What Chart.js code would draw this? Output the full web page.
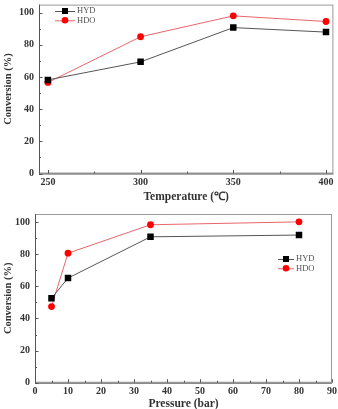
<!DOCTYPE html>
<html>
<head>
<meta charset="utf-8">
<script src="https://cdn.jsdelivr.net/npm/chart.js@4.4.1/dist/chart.umd.min.js"></script>
<style>
  html, body { margin: 0; padding: 0; background: #fff; }
  canvas { display: block; }
</style>
</head>
<body>
<canvas id="tempChart" width="338" height="205"></canvas>
<canvas id="pressChart" width="338" height="204"></canvas>
<script>
// Conversion vs temperature
const temperatures = [250, 300, 350, 400];
const hydByTemp = [58.2, 69.4, 90.7, 87.9];
const hdoByTemp = [56.6, 85.0, 98.0, 94.5];

// Conversion vs pressure
const pressures = [5, 10, 35, 80];
const hydByPressure = [52.6, 65.1, 90.8, 91.9];
const hdoByPressure = [47.4, 80.6, 98.3, 100.1];

const seriesNames = ['HYD', 'HDO'];
const tempTicks = [250, 300, 350, 400];
const tempMinorTicks = [275, 325, 375];
const pressureTicks = [0, 10, 20, 30, 40, 50, 60, 70, 80, 90];
const pressureMinorTicks = [5, 15, 25, 35, 45, 55, 65, 75, 85];
const conversionTicks = [0, 20, 40, 60, 80, 100];
const conversionMinorTicks = [10, 30, 50, 70, 90];

const SERIF = '"Liberation Serif", "Times New Roman", serif';
const HYD_LINE = '#555';
const HDO_LINE = '#e8666b';

const toPoints = (xs, ys) => xs.map((x, i) => ({ x: x, y: ys[i] }));

// frame + inward ticks, like an Origin plot
const framePlugin = {
    id: 'frame',
    afterDatasetsDraw(chart, args, opts) {
        const { ctx, chartArea: a } = chart;
        const xs = chart.scales.x, ys = chart.scales.y;
        ctx.save();
        ctx.lineWidth = 1;
        ctx.strokeStyle = '#9a9a9a';
        ctx.strokeRect(a.left + 0.5, a.top + 0.5, a.right - a.left - 1, a.bottom - a.top - 1);
        ctx.strokeStyle = '#555';
        ctx.beginPath();
        ctx.moveTo(a.left + 0.5, a.top);
        ctx.lineTo(a.left + 0.5, a.bottom + 0.5);
        ctx.lineTo(a.right, a.bottom + 0.5);
        ctx.stroke();
        ctx.beginPath();
        opts.xMajor.forEach(v => {
            const px = Math.round(xs.getPixelForValue(v)) + 0.5;
            ctx.moveTo(px, a.bottom); ctx.lineTo(px, a.bottom - 3.5);
        });
        opts.xMinor.forEach(v => {
            const px = Math.round(xs.getPixelForValue(v)) + 0.5;
            ctx.moveTo(px, a.bottom); ctx.lineTo(px, a.bottom - 2);
        });
        opts.yMajor.forEach(v => {
            const py = Math.round(ys.getPixelForValue(v)) + 0.5;
            ctx.moveTo(a.left, py); ctx.lineTo(a.left + 3.5, py);
        });
        opts.yMinor.forEach(v => {
            const py = Math.round(ys.getPixelForValue(v)) + 0.5;
            ctx.moveTo(a.left, py); ctx.lineTo(a.left + 2, py);
        });
        ctx.stroke();
        ctx.restore();
    },
};

// legend with line-marker-line symbols
const lineLegendPlugin = {
    id: 'lineLegend',
    afterDraw(chart, args, opts) {
        const { ctx } = chart;
        ctx.save();
        ctx.font = '8.5px ' + SERIF;
        ctx.textBaseline = 'middle';
        chart.data.datasets.forEach((ds, i) => {
            const y = opts.y + i * opts.rowGap;
            ctx.strokeStyle = ds.borderColor;
            ctx.lineWidth = 1;
            ctx.beginPath();
            ctx.moveTo(opts.x, y + 0.5);
            ctx.lineTo(opts.x + opts.lineLen, y + 0.5);
            ctx.stroke();
            ctx.fillStyle = ds.pointBackgroundColor;
            const cx = opts.x + opts.lineLen / 2;
            if (ds.pointStyle === 'rect') {
                ctx.fillRect(cx - 3, y - 3, 6, 6);
            } else {
                ctx.beginPath();
                ctx.arc(cx, y, 3.3, 0, Math.PI * 2);
                ctx.fill();
            }
            ctx.fillStyle = '#555';
            ctx.fillText(ds.label, opts.x + opts.lineLen + 2, y);
        });
        ctx.restore();
    },
};

function makeDatasets(xs, hyd, hdo) {
    return [
        {
            label: seriesNames[0],
            data: toPoints(xs, hyd),
            borderColor: HYD_LINE,
            borderWidth: 1,
            pointStyle: 'rect',
            pointRadius: 4.6,
            pointBackgroundColor: '#000',
            pointBorderColor: '#000',
            pointBorderWidth: 0,
            showLine: true,
        },
        {
            label: seriesNames[1],
            data: toPoints(xs, hdo),
            borderColor: HDO_LINE,
            borderWidth: 1,
            pointStyle: 'circle',
            pointRadius: 3.4,
            pointBackgroundColor: '#ff0000',
            pointBorderColor: '#ff0000',
            pointBorderWidth: 0,
            showLine: true,
        },
    ];
}

function makeConfig(s) {
    return {
        type: 'scatter',
        data: { datasets: makeDatasets(s.xs, s.hyd, s.hdo) },
        options: {
            responsive: false,
            animation: false,
            layout: { padding: s.padding },
            plugins: {
                legend: { display: false },
                tooltip: { enabled: false },
                frame: { xMajor: s.xTicks, xMinor: s.xMinor, yMajor: conversionTicks, yMinor: conversionMinorTicks },
                lineLegend: s.legend,
            },
            scales: {
                x: {
                    type: 'linear',
                    min: s.xMin,
                    max: s.xMax,
                    afterBuildTicks: (scale) => { scale.ticks = s.xTicks.map(v => ({ value: v })); },
                    afterFit: (scale) => {
                        scale.height = s.xAxisHeight;
                        scale.paddingLeft = 0;
                        scale.paddingRight = 0;
                    },
                    grid: { display: false, drawTicks: false },
                    border: { display: false },
                    ticks: {
                        padding: 3,
                        maxRotation: 0,
                        color: '#333',
                        font: { family: SERIF, size: 10, weight: 'bold' },
                    },
                    title: {
                        display: true,
                        text: s.xTitle,
                        color: '#333',
                        padding: { top: 1, bottom: s.titleBottom },
                        font: { family: SERIF, size: 11.5, weight: 'bold' },
                    },
                },
                y: {
                    min: 0,
                    max: 105,
                    afterBuildTicks: (scale) => { scale.ticks = conversionTicks.map(v => ({ value: v })); },
                    afterFit: (scale) => {
                        scale.width = s.yAxisWidth;
                        scale.paddingTop = 0;
                        scale.paddingBottom = 0;
                    },
                    grid: { display: false, drawTicks: false },
                    border: { display: false },
                    ticks: {
                        padding: 5,
                        color: '#333',
                        font: { family: SERIF, size: 10, weight: 'bold' },
                    },
                    title: {
                        display: true,
                        text: 'Conversion (%)',
                        color: '#333',
                        padding: { top: 2, bottom: 0 },
                        font: { family: SERIF, size: 10.5, weight: 'bold' },
                    },
                },
            },
        },
        plugins: [framePlugin, lineLegendPlugin],
    };
}

new Chart(document.getElementById('tempChart'), makeConfig({
    xs: temperatures, hyd: hydByTemp, hdo: hdoByTemp,
    xMin: 245.2, xMax: 404, xTicks: tempTicks, xMinor: tempMinorTicks,
    xTitle: 'Temperature (℃)',
    padding: { top: 3, right: 3, left: 0, bottom: 0 },
    xAxisHeight: 31.5, yAxisWidth: 39, titleBottom: 1,
    legend: { x: 55, y: 11, rowGap: 9.3, lineLen: 20 },
}));

new Chart(document.getElementById('pressChart'), makeConfig({
    xs: pressures, hyd: hydByPressure, hdo: hdoByPressure,
    xMin: 0, xMax: 90, xTicks: pressureTicks, xMinor: pressureMinorTicks,
    xTitle: 'Pressure (bar)',
    padding: { top: 9, right: 6, left: 0, bottom: 0 },
    xAxisHeight: 26.3, yAxisWidth: 35, titleBottom: -2,
    legend: { x: 278, y: 54, rowGap: 9.3, lineLen: 16 },
}));
</script>
</body>
</html>
